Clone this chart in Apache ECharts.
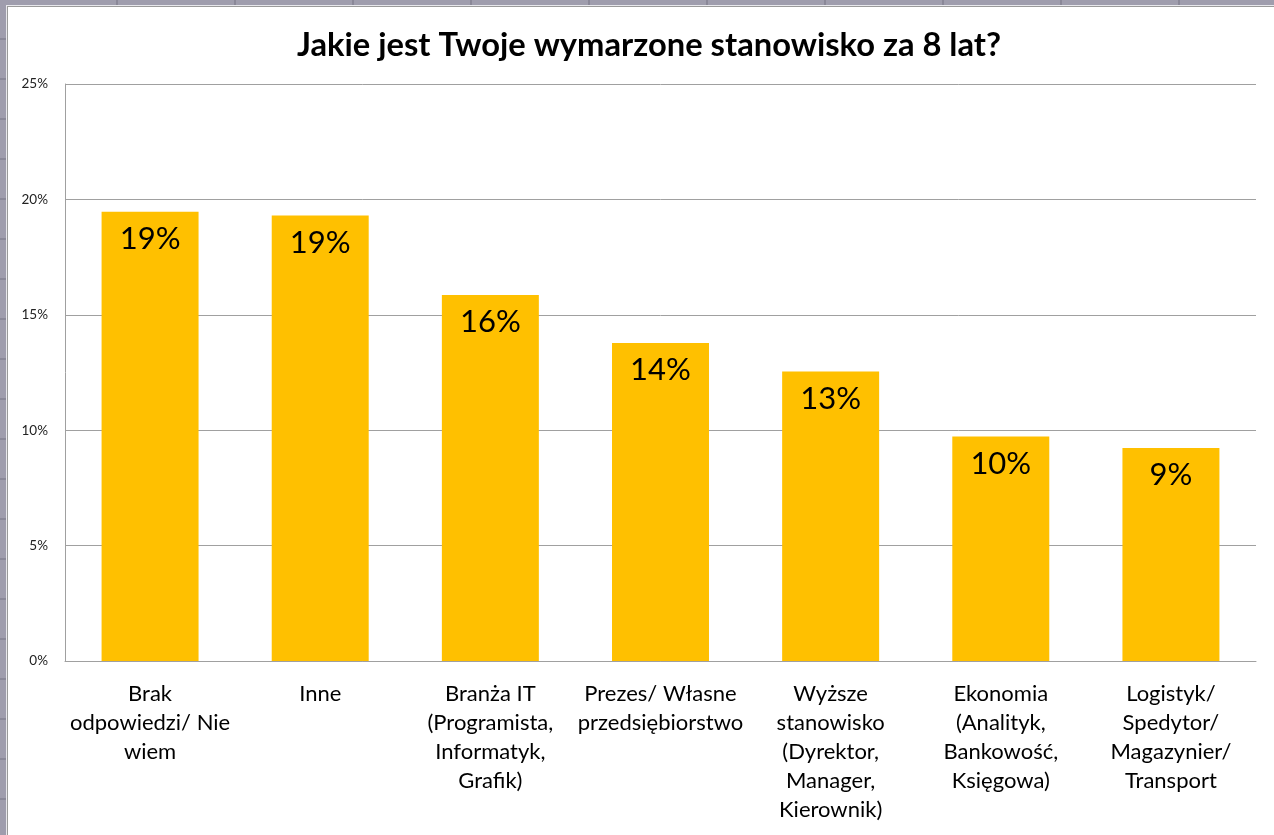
<!DOCTYPE html>
<html>
<head>
<meta charset="utf-8">
<script src="https://cdn.jsdelivr.net/npm/echarts@6/dist/echarts.min.js"></script>
<style>
  html, body { margin: 0; padding: 0; background: #ffffff; }
  #chart { position: absolute; left: 0; top: 0; width: 1274px; height: 835px; }
  .strip { position: absolute; background: #9f9dad; z-index: 2; }
  .line { position: absolute; z-index: 2; }
</style>
</head>
<body>
<div id="chart"></div>
<div class="strip" style="left:0;top:0;width:1274px;height:5px;background:repeating-linear-gradient(90deg,#9f9dad 0,#9f9dad 116px,#8a8898 116px,#8a8898 118px);"></div>
<div class="strip" style="left:0;top:0;width:6px;height:835px;background:repeating-linear-gradient(180deg,#9f9dad 0,#9f9dad 38px,#8a8898 38px,#8a8898 40px);"></div>
<div class="line" style="left:6px;top:5px;width:1268px;height:1px;background:#e8e8ec;"></div>
<div class="line" style="left:6px;top:5px;width:1px;height:830px;background:#e8e8ec;"></div>
<div class="line" style="left:7px;top:6px;width:1267px;height:1px;background:#9a9a9a;"></div>
<div class="line" style="left:7px;top:6px;width:1px;height:829px;background:#9a9a9a;"></div>
<script>
const title = 'Jakie jest Twoje wymarzone stanowisko za 8 lat?';
const categories = [
  'Brak\nodpowiedzi/ Nie\nwiem',
  'Inne',
  'Branża IT\n(Programista,\nInformatyk,\nGrafik)',
  'Prezes/ Własne\nprzedsiębiorstwo',
  'Wyższe\nstanowisko\n(Dyrektor,\nManager,\nKierownik)',
  'Ekonomia\n(Analityk,\nBankowość,\nKsięgowa)',
  'Logistyk/\nSpedytor/\nMagazynier/\nTransport'
];
const values = [19.46, 19.30, 15.86, 13.78, 12.54, 9.73, 9.23];
const yTicks = { min: 0, max: 25, interval: 5 };

const chart = echarts.init(document.getElementById('chart'));
const FONT = 'Lato';
chart.setOption({
  backgroundColor: '#ffffff',
  animation: false,
  title: {
    text: title,
    left: 644,
    textAlign: 'center',
    top: 24,
    textStyle: { fontFamily: FONT, fontWeight: 'bold', fontSize: 32.7, color: '#000000' }
  },
  grid: { left: 65, right: 18, top: 84, bottom: 174, containLabel: false },
  xAxis: {
    type: 'category',
    data: categories,
    axisLine: { show: true, lineStyle: { color: '#a0a0a0', width: 1 } },
    axisTick: { show: false },
    axisLabel: {
      interval: 0,
      margin: 18,
      fontFamily: FONT,
      fontSize: 22,
      lineHeight: 29,
      color: '#000000',
      align: 'center'
    }
  },
  yAxis: {
    type: 'value',
    min: yTicks.min,
    max: yTicks.max,
    interval: yTicks.interval,
    axisLine: { show: true, lineStyle: { color: '#a0a0a0', width: 1 } },
    axisTick: { show: false },
    splitLine: { show: true, lineStyle: { color: '#a0a0a0', width: 1 } },
    axisLabel: {
      margin: 17,
      fontFamily: FONT,
      fontSize: 13.5,
      color: '#222222',
      formatter: v => v + '%'
    }
  },
  series: [{
    type: 'bar',
    data: values,
    barWidth: '57%',
    itemStyle: { color: '#FFC000' },
    label: {
      show: true,
      position: 'insideTop',
      distance: 12,
      fontFamily: FONT,
      fontSize: 31,
      color: '#000000',
      formatter: p => Math.round(p.value) + '%'
    }
  }]
});
</script>
</body>
</html>
